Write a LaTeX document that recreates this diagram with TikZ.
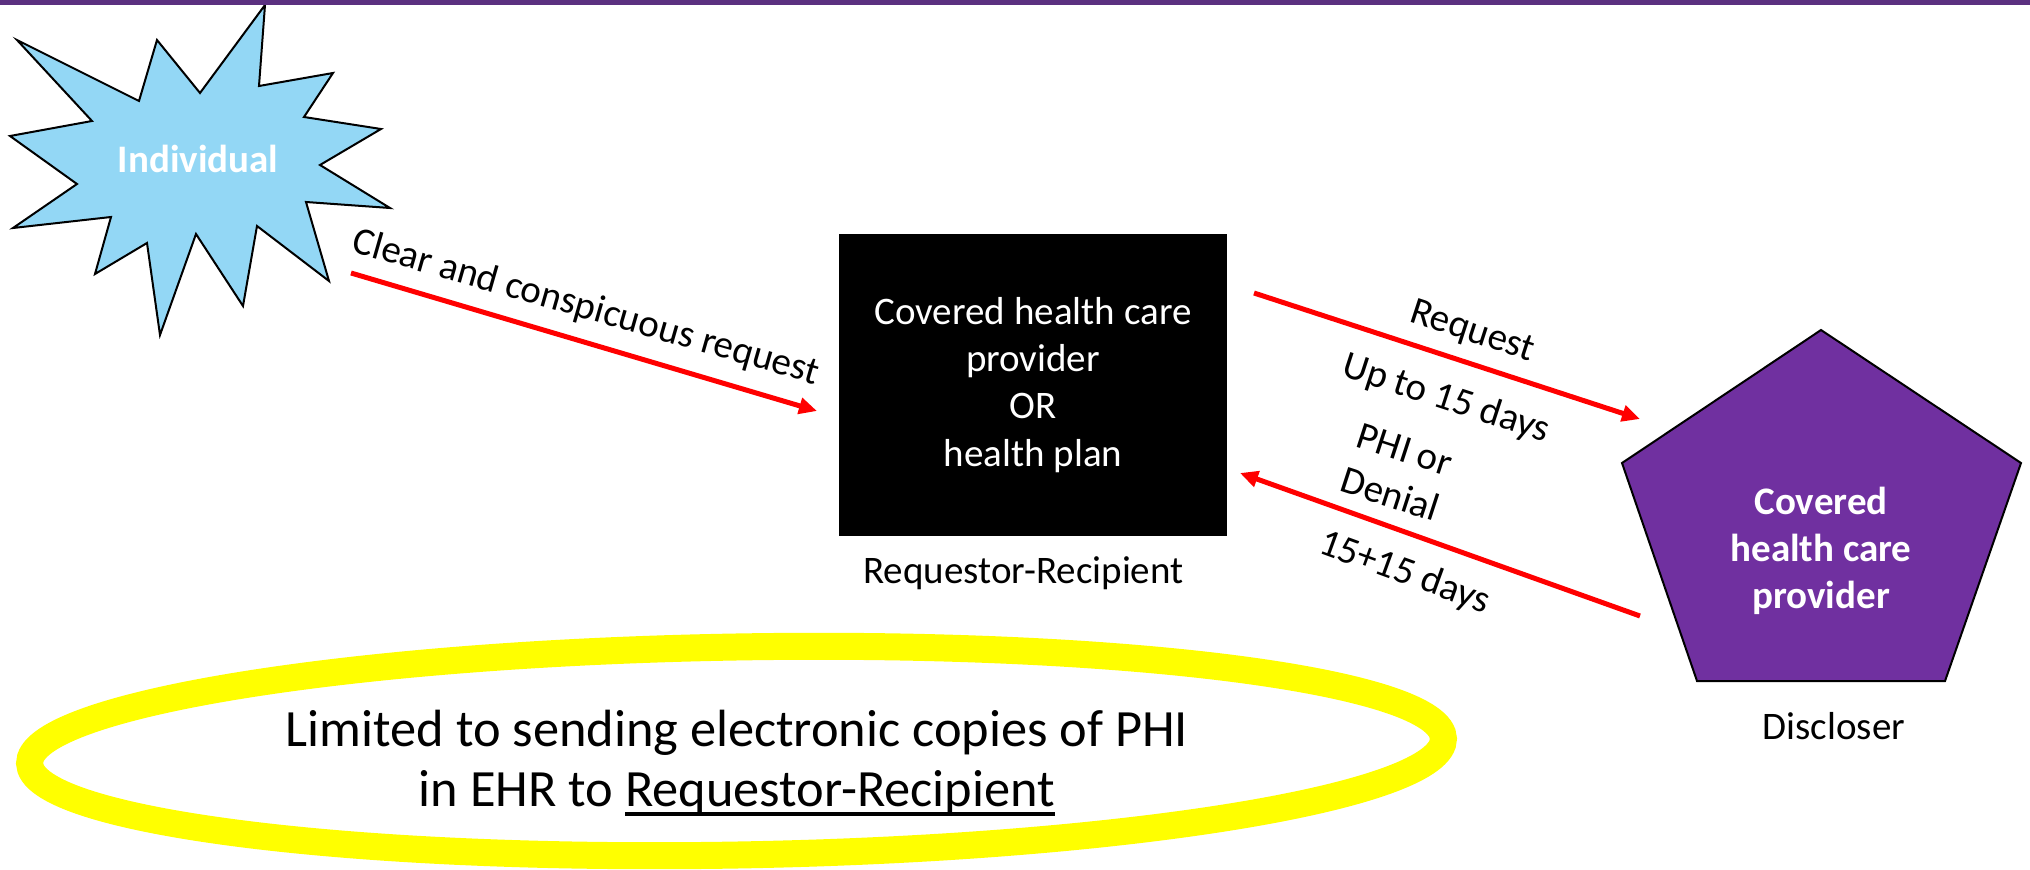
\documentclass[tikz,border=0pt]{standalone}
\usepackage{fontspec}
\setmainfont{Carlito}
\usepackage{tikz}
\usetikzlibrary{arrows.meta}
\definecolor{Burst}{RGB}{147, 215, 245}
\definecolor{Plum}{RGB}{112, 48, 160}
\definecolor{Band}{RGB}{91, 48, 128}
\definecolor{Halo}{RGB}{255, 255, 0}

% underline that sits close to the baseline
\newcommand{\ulword}[1]{\setbox0\hbox{#1}\rlap{\rule[-0.19em]{\wd0}{0.075em}}\box0}

\tikzset{
    txt/.style={font=\fontsize{11.1}{13.4}\selectfont, inner sep=0pt},
    req/.style={draw=red, line width=0.05cm, -{Triangle[length=0.18cm, width=0.16cm]}},
}

\begin{document}
\begin{tikzpicture}
    %% Background
    \fill[white] (0,0) rectangle (20.3,-8.69);
    \useasboundingbox (0,0) rectangle (20.3,-8.69);

    %% Halo round the note
    \draw[Halo, line width=0.27cm, rotate around={1:(7.365,-7.51)}]
        (7.365,-7.51) ellipse (7.07 and 1.04);
    \node[font=\fontsize{14.9}{17.07}\selectfont, inner sep=0pt, align=center]
        (note) at (7.37,-7.63)
        {Limited to sending electronic copies of PHI\\in EHR to \ulword{Requestor-Recipient}};

    %% Individual
    \draw[fill=Burst, line width=0.02cm]
        (0.17,-0.40) -- (1.39,-1.01) -- (1.57,-0.40) -- (2.00,-0.93)
        -- (2.65,-0.05) -- (2.59,-0.86) -- (3.33,-0.73) -- (3.04,-1.17)
        -- (3.81,-1.29) -- (3.20,-1.65) -- (3.90,-2.08) -- (3.06,-2.02)
        -- (3.29,-2.81) -- (2.57,-2.26) -- (2.43,-3.06) -- (1.96,-2.34)
        -- (1.60,-3.35) -- (1.47,-2.43) -- (0.95,-2.74) -- (1.11,-2.17)
        -- (0.13,-2.28) -- (0.77,-1.84) -- (0.10,-1.36) -- (0.92,-1.21)
        -- cycle;
    \node[txt, font=\fontsize{11.1}{13.4}\selectfont\bfseries, text=white, anchor=base]
        (indiv) at (1.98,-1.73) {Individual};

    %% Requestor-Recipient
    \node[txt, fill=black, text=white, align=center,
        minimum width=3.88cm, minimum height=3.02cm]
        (covered) at (10.33,-3.85) {Covered health care\\provider\\OR\\health plan};
    \node[txt, anchor=base] (rrname) at (10.235,-5.83) {Requestor-Recipient};

    %% Discloser
    \draw[fill=Plum, line width=0.02cm]
        (18.21,-3.30) -- (20.21,-4.63) -- (19.45,-6.81)
        -- (16.97,-6.81) -- (16.22,-4.63) -- cycle;
    \node[txt, font=\fontsize{11.1}{13.4}\selectfont\bfseries, text=white, align=center]
        (provider) at (18.21,-5.505) {Covered\\health care\\provider};
    \node[txt, anchor=base] (disname) at (18.34,-7.39) {Discloser};

    %% Arrow ends
    \coordinate (askfrom) at (3.51,-2.73);
    \coordinate (askto)   at (8.17,-4.11);
    \coordinate (fwdfrom) at (12.54,-2.93);
    \coordinate (fwdto)   at (16.40,-4.19);
    \coordinate (backfrom) at (16.40,-6.16);
    \coordinate (backto)   at (12.40,-4.73);

    %% Requests and replies
    \draw[req] (askfrom) -- (askto);
    \draw[req] (fwdfrom) -- (fwdto);
    \draw[req] (backfrom) -- (backto);

    \node[txt, rotate=-16, anchor=base] (clear) at (5.83,-3.18) {Clear and conspicuous request};
    \node[txt, rotate=-18] (reqlbl) at (14.72,-3.325) {Request};
    \node[txt, rotate=-18] (uplbl) at (14.46,-3.99) {Up to 15 days};
    \node[txt, rotate=-18, align=center] (philbl) at (13.975,-4.72) {PHI or\\Denial};
    \node[txt, rotate=-20] (dayslbl) at (14.045,-5.73) {15+15 days};

    %% Top band
    \fill[Band] (0,0) rectangle (20.3,-0.05);
\end{tikzpicture}
\end{document}
